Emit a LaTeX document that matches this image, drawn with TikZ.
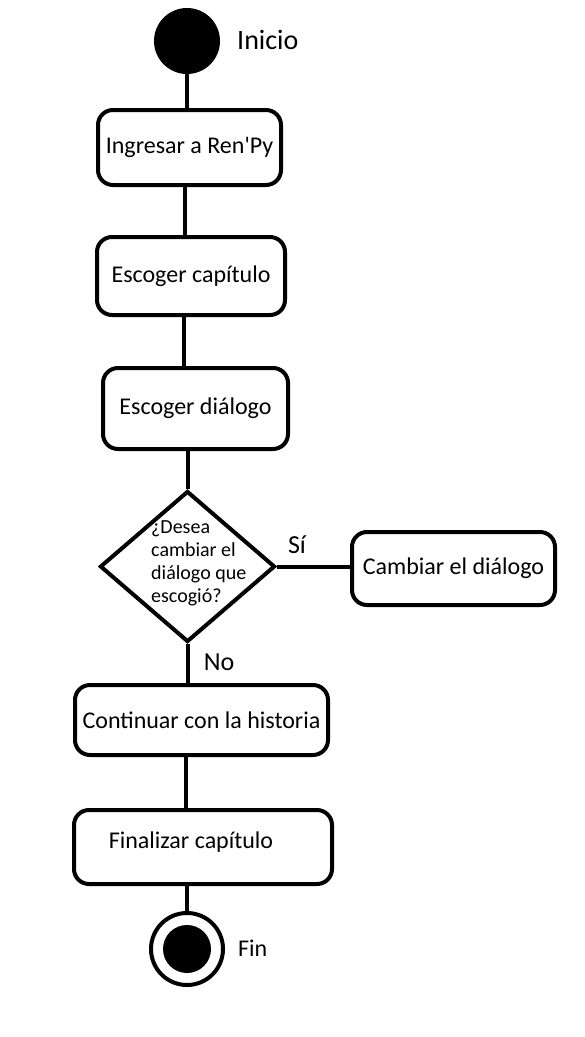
\documentclass[tikz,border=0pt]{standalone}
\usepackage{fontspec}
\setmainfont{Carlito}
\usetikzlibrary{shapes.geometric}
\tikzset{
  act/.style={draw,line width=4pt,rounded corners=15pt,inner sep=0pt,font=\fontsize{24}{28}\selectfont},
  conn/.style={line width=4pt},
  lbl/.style={inner sep=0pt,font=\fontsize{26}{30}\selectfont}
}
\begin{document}
\begin{tikzpicture}[x=1pt,y=-1pt]
	\useasboundingbox (0,0) rectangle (585,1037);
	\node[circle,fill=black,minimum size=66pt,inner sep=0pt] (start) at (187,41) {};
	\node[lbl,anchor=west,font=\fontsize{28}{30}\selectfont] (inicio) at (237,40) {Inicio};
	\node[act,minimum width=183pt,minimum height=75pt] (ingresar) at (189.5,147.5) {Ingresar a Ren\textquotesingle Py};
	\node[act,minimum width=188pt,minimum height=78pt] (capitulo) at (191,276) {Escoger capítulo};
	\node[act,minimum width=185pt,minimum height=81pt] (dialogo) at (195.5,408.5) {Escoger diálogo};
	\node[diamond,draw,line width=4pt,minimum width=175pt,minimum height=151pt,inner sep=0pt] (pregunta) at (187.5,566.5) {};
	\node[anchor=west,align=left,inner sep=0pt,font=\fontsize{20}{23}\selectfont] (preguntatxt) at (151,563) {¿Desea\\cambiar el\\diálogo que\\escogió?};
	\node[act,minimum width=203pt,minimum height=73pt] (cambiar) at (453.5,568.5) {Cambiar el diálogo};
	\node[act,minimum width=253pt,minimum height=70pt] (continuar) at (201.5,720) {Continuar con la historia};
	\node[act,minimum width=258pt,minimum height=74pt] (finalizar) at (203,847) {};
	\node[inner sep=0pt,font=\fontsize{24}{28}\selectfont] (finalizartxt) at (191,842) {Finalizar capítulo};
	\node[circle,draw,line width=4pt,minimum size=72pt,inner sep=0pt] (fin) at (187,949) {};
	\node[circle,fill=black,minimum size=48pt,inner sep=0pt] (finpunto) at (fin) {};
	\node[lbl,anchor=west,font=\fontsize{24}{28}\selectfont] (fintxt) at (238,948) {Fin};
	\node[lbl] (si) at (297,545) {Sí};
	\node[lbl] (no) at (219,662) {No};
	% conectores
	\draw[conn] (start.south) -- (start.south |- ingresar.north);
	\draw[conn] (ingresar.south -| 185,0) -- (capitulo.north -| 185,0);
	\draw[conn] (capitulo.south -| 184,0) -- (dialogo.north -| 184,0);
	\draw[conn] (dialogo.south -| pregunta) -- (pregunta.north);
	\draw[conn] (pregunta.east) -- (pregunta.east -| cambiar.west);
	\draw[conn] (pregunta.south) -- (pregunta.south |- continuar.north);
	\draw[conn] (continuar.south -| 186,0) -- (finalizar.north -| 186,0);
	\draw[conn] (finalizar.south -| fin) -- (fin.north);
\end{tikzpicture}
\end{document}
